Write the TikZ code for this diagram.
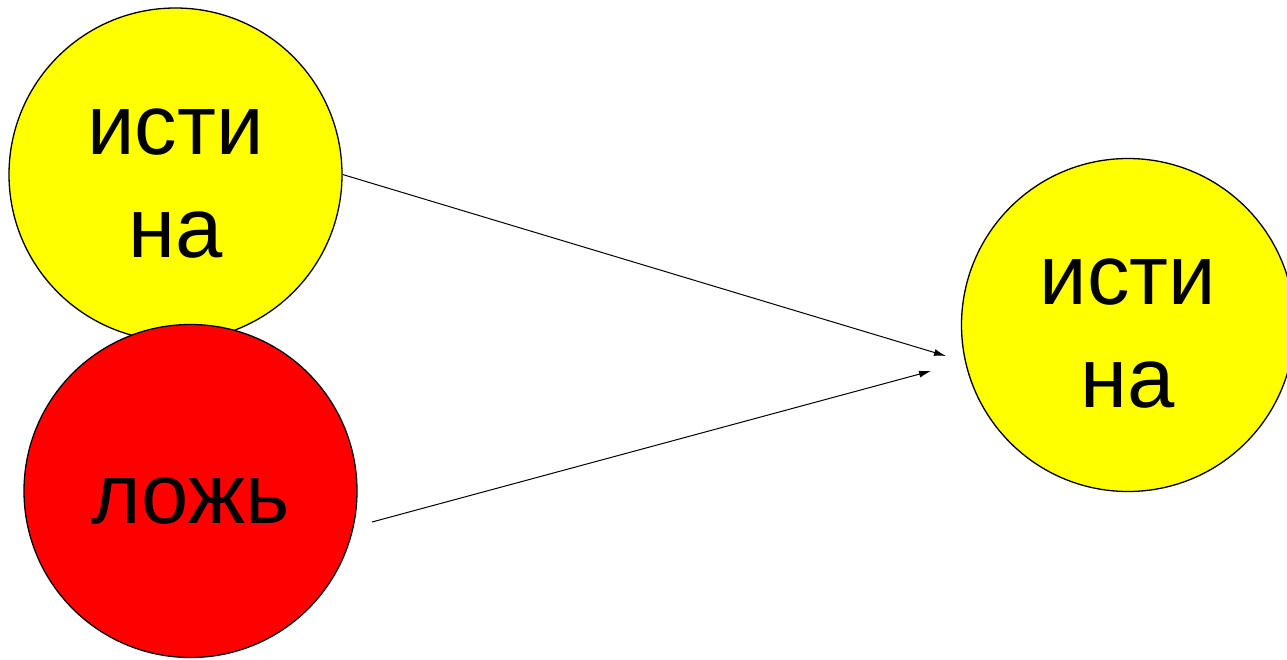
\documentclass[tikz,border=0pt]{standalone}
\usepackage{fontspec}
\setmainfont{Liberation Sans}
\usetikzlibrary{arrows.meta}
\definecolor{truthyellow}{RGB}{255,255,0}
\definecolor{liered}{RGB}{255,0,0}

\begin{document}
\begin{tikzpicture}[x=1pt, y=-1pt,
  bubble/.style={draw, circle, line width=1.3pt, minimum size=333pt, inner sep=0pt},
  word/.style={align=center, inner sep=0pt, font=\fontsize{85}{103}\selectfont},
  link/.style={line width=1pt, -{Latex[length=12pt,width=7pt]}}]
  \useasboundingbox (0,0) rectangle (1287,659);
  % left pair
  \node [bubble, fill=truthyellow] (truthA) at (175.5,174.5) {};
  \node [word] (truthAtext) at ([yshift=-9pt]truthA.center) {исти\\на};
  \node [bubble, fill=liered] (lie) at (190.5,491) {};
  \node [word] (lietext) at ([yshift=-10pt]lie.center) {ложь};
  % result
  \node [bubble, fill=truthyellow] (truthB) at (1128,325) {};
  \node [word] (truthBtext) at ([yshift=-9pt]truthB.center) {исти\\на};
  \coordinate (lieout) at (372,522);
  \coordinate (tipA) at (946,356);
  \coordinate (tipB) at (931,371);
  \draw [link] (truthA.east) -- (tipA);
  \draw [link] (lieout) -- (tipB);
\end{tikzpicture}
\end{document}
